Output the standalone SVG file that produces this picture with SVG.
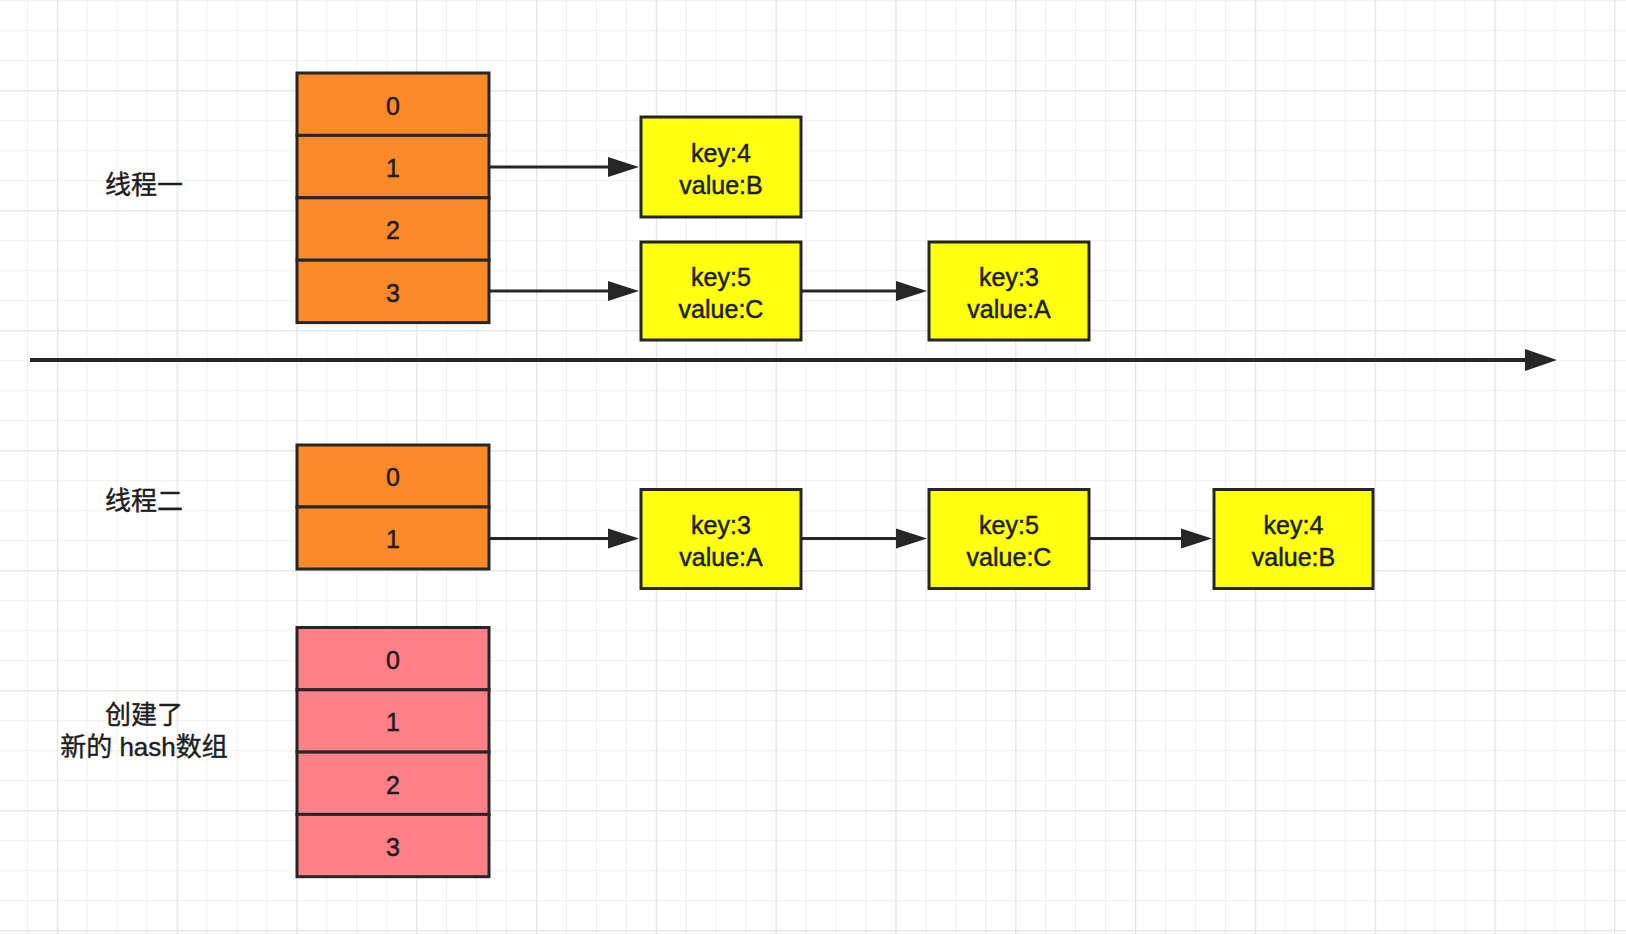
<svg xmlns="http://www.w3.org/2000/svg" width="1626" height="934" viewBox="0 0 1626 934">
  <style>
    .cell { stroke: #262626; stroke-width: 3; }
    .orange { fill: #FD8A28; }
    .pink { fill: #FF8087; }
    .node { fill: #FFFF0F; stroke: #262626; stroke-width: 3; }
    .t { font-family: "Liberation Sans", Arial, "Noto Sans CJK SC", sans-serif; fill: #1e1e1e; stroke: #1e1e1e; stroke-width: 0.5; text-anchor: middle; }
    .num { font-size: 25px; }
    .kv { font-size: 25px; }
    .lbl { font-family: "Liberation Sans", "Noto Sans CJK SC", sans-serif; font-size: 26px; fill: #1e1e1e; stroke: #1e1e1e; stroke-width: 0.4; text-anchor: middle; }
    .conn { stroke: #262626; stroke-width: 3; fill: none; }
    .head { fill: #262626; }
  </style>
  <defs>
    <pattern id="grid" patternUnits="userSpaceOnUse" x="56.8" y="90.2" width="119.8" height="120">
      <rect width="119.8" height="120" fill="#ffffff"/>
      <g stroke="#f0f0f0" stroke-width="1">
        <line x1="30.45" y1="0" x2="30.45" y2="120"/>
        <line x1="60.4" y1="0" x2="60.4" y2="120"/>
        <line x1="90.35" y1="0" x2="90.35" y2="120"/>
        <line x1="0" y1="30.5" x2="119.8" y2="30.5"/>
        <line x1="0" y1="60.5" x2="119.8" y2="60.5"/>
        <line x1="0" y1="90.5" x2="119.8" y2="90.5"/>
      </g>
      <g stroke="#e3e3e3" stroke-width="1.5">
        <line x1="0.5" y1="0" x2="0.5" y2="120"/>
        <line x1="0" y1="0.5" x2="119.8" y2="0.5"/>
      </g>
    </pattern>
  </defs>

  <rect id="background" x="0" y="0" width="1626" height="934" fill="url(#grid)"/>

  <!-- Labels -->
  <g id="label-thread1"><text class="lbl" x="144" y="194">线程一</text></g>
  <g id="label-thread2"><text class="lbl" x="144" y="510">线程二</text></g>
  <g id="label-newarray">
    <text class="lbl" x="144" y="724">创建了</text>
    <text class="lbl" x="144" y="756">新的 hash数组</text>
  </g>

  <!-- Thread 1 array -->
  <g id="t1-cell0"><rect class="cell orange" x="297" y="73" width="192" height="62.4"/><text class="t num" x="393" y="114.5">0</text></g>
  <g id="t1-cell1"><rect class="cell orange" x="297" y="135.4" width="192" height="62.4"/><text class="t num" x="393" y="176.9">1</text></g>
  <g id="t1-cell2"><rect class="cell orange" x="297" y="197.8" width="192" height="62.4"/><text class="t num" x="393" y="239.3">2</text></g>
  <g id="t1-cell3"><rect class="cell orange" x="297" y="260.2" width="192" height="62.4"/><text class="t num" x="393" y="301.7">3</text></g>

  <!-- Thread 1 nodes -->
  <g id="t1-key4"><rect class="node" x="641" y="117" width="160" height="100"/><text class="t kv" x="721" y="162">key:4</text><text class="t kv" x="721" y="194">value:B</text></g>
  <g id="t1-key5"><rect class="node" x="641" y="242" width="160" height="98"/><text class="t kv" x="721" y="286">key:5</text><text class="t kv" x="721" y="318">value:C</text></g>
  <g id="t1-key3"><rect class="node" x="929" y="242" width="160" height="98"/><text class="t kv" x="1009" y="286">key:3</text><text class="t kv" x="1009" y="318">value:A</text></g>

  <!-- Thread 2 array -->
  <g id="t2-cell0"><rect class="cell orange" x="297" y="445" width="192" height="62"/><text class="t num" x="393" y="486.3">0</text></g>
  <g id="t2-cell1"><rect class="cell orange" x="297" y="507" width="192" height="62"/><text class="t num" x="393" y="548.3">1</text></g>

  <!-- Thread 2 nodes -->
  <g id="t2-key3"><rect class="node" x="641" y="489.5" width="160" height="99"/><text class="t kv" x="721" y="533.5">key:3</text><text class="t kv" x="721" y="565.5">value:A</text></g>
  <g id="t2-key5"><rect class="node" x="929" y="489.5" width="160" height="99"/><text class="t kv" x="1009" y="533.5">key:5</text><text class="t kv" x="1009" y="565.5">value:C</text></g>
  <g id="t2-key4"><rect class="node" x="1214" y="489.5" width="159" height="99"/><text class="t kv" x="1293.5" y="533.5">key:4</text><text class="t kv" x="1293.5" y="565.5">value:B</text></g>

  <!-- New array -->
  <g id="new-cell0"><rect class="cell pink" x="297" y="627.5" width="192" height="62.3"/><text class="t num" x="393" y="668.9">0</text></g>
  <g id="new-cell1"><rect class="cell pink" x="297" y="689.8" width="192" height="62.3"/><text class="t num" x="393" y="731.2">1</text></g>
  <g id="new-cell2"><rect class="cell pink" x="297" y="752.1" width="192" height="62.3"/><text class="t num" x="393" y="793.5">2</text></g>
  <g id="new-cell3"><rect class="cell pink" x="297" y="814.4" width="192" height="62.3"/><text class="t num" x="393" y="855.8">3</text></g>

  <!-- Connectors -->
  <g id="connectors">
    <line class="conn" x1="490" y1="167" x2="611" y2="167"/>
    <polygon class="head" points="608,157 639,167 608,177"/>
    <line class="conn" x1="490" y1="291" x2="611" y2="291"/>
    <polygon class="head" points="608,281 639,291 608,301"/>
    <line class="conn" x1="802" y1="291" x2="899" y2="291"/>
    <polygon class="head" points="896,281 927,291 896,301"/>

    <line class="conn" x1="490" y1="538.5" x2="611" y2="538.5"/>
    <polygon class="head" points="608,528.5 639,538.5 608,548.5"/>
    <line class="conn" x1="802" y1="538.5" x2="899" y2="538.5"/>
    <polygon class="head" points="896,528.5 927,538.5 896,548.5"/>
    <line class="conn" x1="1090" y1="538.5" x2="1184" y2="538.5"/>
    <polygon class="head" points="1181,528.5 1212,538.5 1181,548.5"/>

    <line x1="30" y1="360" x2="1528" y2="360" stroke="#262626" stroke-width="4"/>
    <polygon class="head" points="1525,349 1557,360 1525,371"/>
  </g>
</svg>
